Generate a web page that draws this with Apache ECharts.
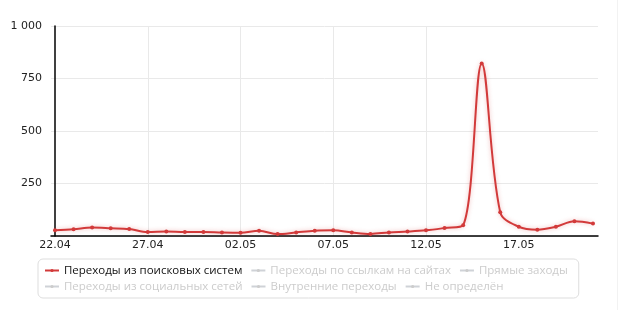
<!DOCTYPE html>
<html><head><meta charset="utf-8">
<script src="https://cdn.jsdelivr.net/npm/echarts@6/dist/echarts.min.js"></script>
<style>html,body{margin:0;padding:0;background:#fff}#c{width:639px;height:310px}#edge{position:absolute;left:617px;top:0;width:1px;height:310px;background:#f2f2f2}</style>
</head><body><div id="c"></div><div id="edge"></div>
<script>
const dates = ['22.04','23.04','24.04','25.04','26.04','27.04','28.04','29.04','30.04','01.05','02.05','03.05','04.05','05.05','06.05','07.05','08.05','09.05','10.05','11.05','12.05','13.05','14.05','15.05','16.05','17.05','18.05','19.05','20.05','21.05'];
const searchVisits = [27,32,40,37,33,19,21,19,19,17,16,25,9,17,25,27,17,10,17,21,27,38,51,822,113,44,30,44,70,59];
const seriesNames = ['Переходы из поисковых систем','Переходы по ссылкам на сайтах','Прямые заходы','Переходы из социальных сетей','Внутренние переходы','Не определён'];
const labelDays = [0,5,10,15,20,25];
const yTicks = [0,250,500,750,1000];

const font = 'DejaVu Sans';
const legendFont = 'Open Sans';
const chart = echarts.init(document.getElementById('c'), null, {renderer:'canvas'});
const selected = {};
seriesNames.forEach((n,i)=>selected[n] = i===0);
const series = seriesNames.map((n,i)=>({
  name:n, type:'line',
  data: i===0 ? searchVisits.map((v,j)=>[j,v]) : [],
  smooth: i===0 ? 0.35 : false,
  symbol:'circle', symbolSize:4, showSymbol:true,
  itemStyle:{color: i===0 ? '#d23a3a' : '#cccccc'},
  lineStyle:{width:2, color: i===0 ? '#d23a3a' : '#cccccc', shadowColor:'rgba(210,58,58,0.35)', shadowBlur:4},
  animation:false
}));
chart.setOption({
  animation:false,
  grid:{left:51,right:41,top:26,bottom:74},
  xAxis:{
    type:'value', min:-0.216, max:29.27,
    axisLine:{show:true,lineStyle:{color:'#000',width:1.5}},
    axisTick:{show:false, customValues:labelDays},
    axisLabel:{customValues:labelDays, formatter:v=>dates[Math.round(v)]||'', color:'#222', fontFamily:font, fontSize:11, margin:4},
    splitLine:{show:true, showMinLine:false, showMaxLine:false, lineStyle:{color:'#e9e9e9'}}
  },
  yAxis:{
    type:'value', min:0, max:1000, interval:250,
    axisLine:{show:true,lineStyle:{color:'#000',width:1.5}},
    axisTick:{show:false},
    axisLabel:{showMinLabel:false, formatter:v=>v>=1000?(Math.floor(v/1000)+' '+String(v%1000).padStart(3,'0')):String(v), color:'#222', fontFamily:font, fontSize:11, margin:9},
    splitLine:{show:true, lineStyle:{color:'#e9e9e9'}}
  },
  legend:{
    left:38, top:259, width:545,
    padding:[5,6,5,6], borderColor:'#dddddd', borderWidth:1, borderRadius:5,
    itemGap:3, itemWidth:14, itemHeight:4,
    selected:selected, inactiveColor:'#cccccc',
    textStyle:{fontFamily:legendFont, fontSize:11.5, color:'#111', lineHeight:13, padding:[0,5,0,0]},
    data:seriesNames
  },
  series:series
});
</script></body></html>
